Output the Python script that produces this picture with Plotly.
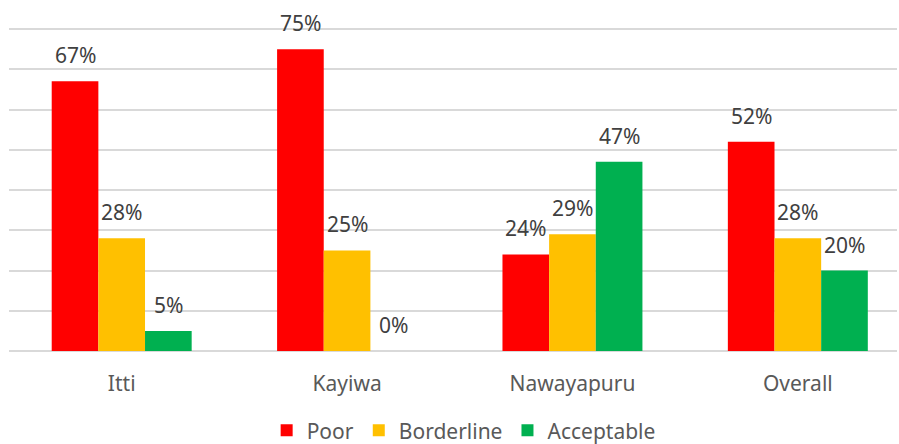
import plotly.graph_objects as go

categories = ["Itti", "Kayiwa", "Nawayapuru", "Overall"]
series_names = ["Poor", "Borderline", "Acceptable"]
poor = [67, 75, 24, 52]
borderline = [28, 25, 29, 28]
acceptable = [5, 0, 47, 20]
colors = ["#FF0000", "#FFC000", "#00B050"]
y_ticks = [0, 10, 20, 30, 40, 50, 60, 70, 80]

series = [poor, borderline, acceptable]

fig = go.Figure()
for name, vals, col in zip(series_names, series, colors):
    fig.add_trace(go.Bar(name=name, x=categories, y=vals, marker_color=col,
                         marker_line_width=0))

bargap = 0.379
bw = (1 - bargap) / 3
annotations = []
for si, vals in enumerate(series):
    for ci, v in enumerate(vals):
        annotations.append(dict(
            x=ci + (si - 1) * bw, y=v, xref="x", yref="y",
            text=f"{v}%", showarrow=False, yanchor="bottom", yshift=10,
            font=dict(family="Noto Sans", size=21, color="#404040")))

fig.update_layout(
    width=899, height=444,
    margin=dict(l=9, r=2, t=25, b=92.5),
    paper_bgcolor="white", plot_bgcolor="white",
    barmode="group", bargap=bargap, bargroupgap=0,
    annotations=annotations,
    showlegend=True,
    legend=dict(orientation="h", x=0.512, xanchor="center",
                yref="container", y=0.03, yanchor="middle",
                font=dict(family="Noto Sans", size=21, color="#595959"),
                traceorder="normal", itemwidth=30, tracegroupgap=0),
    xaxis=dict(range=[-0.5, 3.44], showgrid=False, showline=False, ticks="",
               automargin=False, ticklabelstandoff=18,
               tickfont=dict(family="Noto Sans", size=21, color="#595959")),
    yaxis=dict(range=[0, 81], tickvals=y_ticks, showticklabels=False,
               automargin=False,
               showgrid=True, gridcolor="#D9D9D9", gridwidth=1.5,
               zeroline=True, zerolinecolor="#D9D9D9", zerolinewidth=1.5,
               showline=False),
)

fig.write_html("out.html", config={"displayModeBar": False},
               post_script="document.body.style.margin='0';document.body.style.overflow='hidden';")
